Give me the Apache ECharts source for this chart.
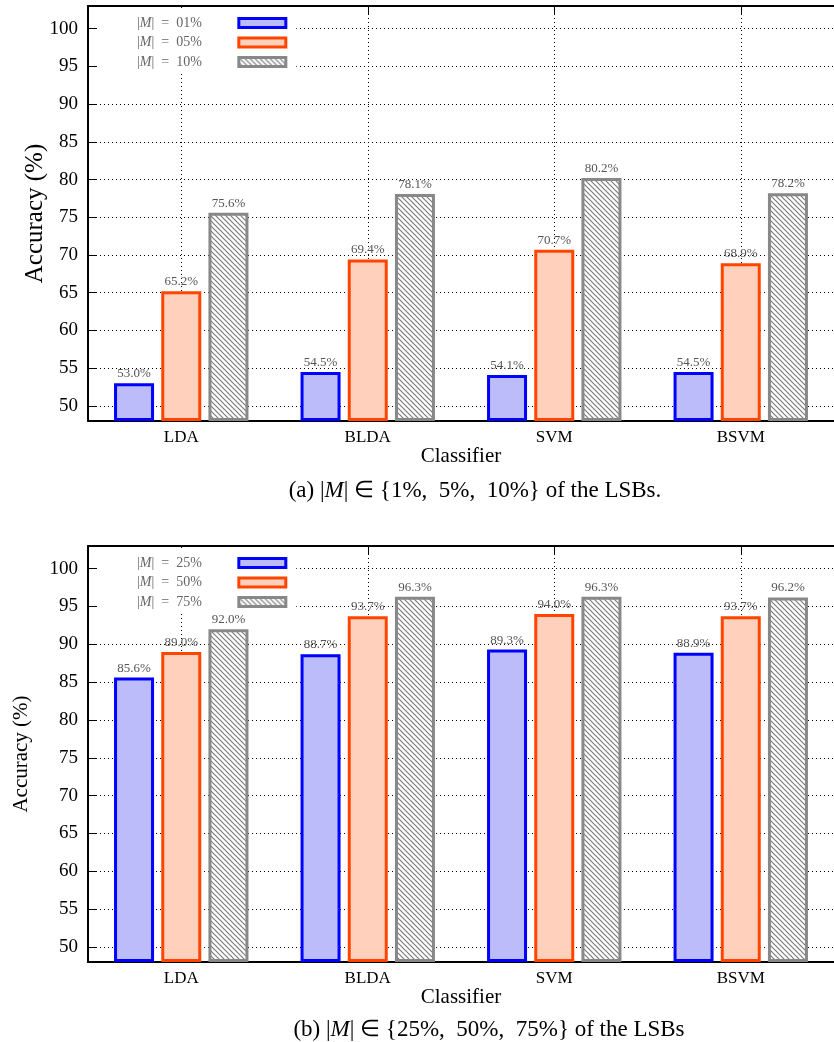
<!DOCTYPE html>
<html>
<head>
<meta charset="utf-8">
<script src="https://cdn.jsdelivr.net/npm/echarts@6/dist/echarts.min.js"></script>
<style>
  html, body { margin: 0; padding: 0; background: #fff; }
  #chart { width: 834px; height: 1042px; }
</style>
</head>
<body>
<div id="chart"></div>
<script>
// Classifiers along the x axis
const classifiers = ['LDA', 'BLDA', 'SVM', 'BSVM'];
// y-axis tick values (accuracy, %)
const yTicks = [50, 55, 60, 65, 70, 75, 80, 85, 90, 95, 100];

// Panel (a): share of LSBs 1%, 5%, 10%
const namesA = ['|M| = 01%', '|M| = 05%', '|M| = 10%'];
const accA01 = [53.0, 54.5, 54.1, 54.5];
const accA05 = [65.2, 69.4, 70.7, 68.9];
const accA10 = [75.6, 78.1, 80.2, 78.2];

// Panel (b): share of LSBs 25%, 50%, 75%
const namesB = ['|M| = 25%', '|M| = 50%', '|M| = 75%'];
const accB25 = [85.6, 88.7, 89.3, 88.9];
const accB50 = [89.0, 93.7, 94.0, 93.7];
const accB75 = [92.0, 96.3, 96.3, 96.2];

const FONT = 'Liberation Serif';

// diagonal hatch fill for the third bar of each group
function hatch() {
  const s = 5;
  const c = document.createElement('canvas');
  c.width = s; c.height = s;
  const g = c.getContext('2d');
  g.fillStyle = '#fff';
  g.fillRect(0, 0, s, s);
  g.strokeStyle = '#7c7c7c';
  g.lineWidth = 1.2;
  g.beginPath();
  g.moveTo(-1, -1); g.lineTo(s + 1, s + 1);
  g.moveTo(-1, s - 1); g.lineTo(1, s + 1);
  g.moveTo(s - 1, -1); g.lineTo(s + 1, 1);
  g.stroke();
  return { image: c, repeat: 'repeat' };
}
const hatchFill = hatch();

const styles = [
  { color: '#bcbcfb', borderColor: '#0000ff', borderWidth: 3 },
  { color: '#ffd0bb', borderColor: '#ff4500', borderWidth: 3 },
  { color: hatchFill, borderColor: '#888888', borderWidth: 3 }
];

function italicM(name) { return name.replace('M', '{i|M}').replace(' = ', '  =  '); }

function barSeries(name, data, idx, gridIdx) {
  return {
    type: 'bar',
    name: name,
    data: data,
    xAxisIndex: gridIdx * 2,
    yAxisIndex: gridIdx,
    barWidth: 40,
    barGap: '18%',
    itemStyle: styles[idx],
    label: {
      show: true,
      position: 'top',
      distance: 3,
      color: '#555',
      fontFamily: FONT,
      fontSize: 13,
      formatter: p => p.value.toFixed(1) + '%'
    }
  };
}

const dotted = { color: '#000', width: 1, type: [1, 3] };

function gridAxes(gridIdx, nameSize, nameGap) {
  const x = [
    {
      type: 'category', gridIndex: gridIdx, data: classifiers, position: 'bottom',
      axisLine: { onZero: false, lineStyle: { color: '#000', width: 2 } },
      axisTick: { show: false },
      axisLabel: { color: '#000', fontFamily: FONT, fontSize: 17, margin: 8 },
      name: 'Classifier', nameLocation: 'middle', nameGap: 25, nameMoveOverlap: false,
      nameTextStyle: { color: '#000', fontFamily: FONT, fontSize: 21 }
    },
    {
      // top frame with a tick and a dotted guide at each classifier
      type: 'value', gridIndex: gridIdx, position: 'top', min: -0.5, max: 3.5,
      axisLine: { show: true, onZero: false, lineStyle: { color: '#000', width: 2 } },
      axisTick: { show: true, inside: true, length: 9, customValues: [0, 1, 2, 3], lineStyle: { color: '#000' } },
      axisLabel: { show: false },
      splitLine: { show: true, lineStyle: dotted }
    }
  ];
  const y = {
    type: 'value', gridIndex: gridIdx, min: 48, max: 103, startValue: 48,
    axisLine: { show: true, onZero: false, lineStyle: { color: '#000', width: 2 } },
    axisTick: { show: true, inside: true, length: 9, customValues: yTicks, lineStyle: { color: '#000' } },
    axisLabel: { color: '#000', fontFamily: FONT, fontSize: 19, margin: 10, customValues: yTicks },
    splitLine: { show: true, lineStyle: dotted },
    name: 'Accuracy (%)', nameLocation: 'middle', nameGap: nameGap, nameMoveOverlap: false,
    nameTextStyle: { color: '#000', fontFamily: FONT, fontSize: nameSize }
  };
  return { x, y };
}

const axA = gridAxes(0, 25, 40);
const axB = gridAxes(1, 21, 56);

function legendFor(names, top) {
  return {
    data: names,
    orient: 'vertical',
    left: 99,
    top: top,
    align: 'right',
    icon: 'rect',
    itemWidth: 47,
    itemHeight: 9,
    itemGap: 5.5,
    itemStyle: { borderWidth: 3 },
    backgroundColor: '#fff',
    padding: [8, 9, 4, 38],
    formatter: italicM,
    textStyle: {
      color: '#666', fontFamily: FONT, fontSize: 14, lineHeight: 14,
      padding: [0, 32, 0, 0],
      rich: { i: { fontStyle: 'italic', color: '#666', fontFamily: FONT, fontSize: 14 } }
    }
  };
}

const option = {
  animation: false,
  backgroundColor: '#fff',
  grid: [
    { left: 88, top: 6, width: 753, height: 415, show: false },
    { left: 88, top: 546, width: 753, height: 416, show: false }
  ],
  xAxis: [...axA.x, ...axB.x],
  yAxis: [axA.y, axB.y],
  legend: [legendFor(namesA, 8), legendFor(namesB, 548)],
  title: [
    {
      text: '(a) |{i|M}| ∈ {1%,  5%,  10%} of the LSBs.',
      left: 470, top: 474, textAlign: 'center',
      textStyle: { color: '#000', fontFamily: FONT, fontSize: 23, fontWeight: 'normal',
        rich: { i: { fontStyle: 'italic', fontFamily: FONT, fontSize: 23 } } }
    },
    {
      text: '(b) |{i|M}| ∈ {25%,  50%,  75%} of the LSBs',
      left: 484, top: 1013, textAlign: 'center',
      textStyle: { color: '#000', fontFamily: FONT, fontSize: 23, fontWeight: 'normal',
        rich: { i: { fontStyle: 'italic', fontFamily: FONT, fontSize: 23 } } }
    }
  ],
  series: [
    barSeries(namesA[0], accA01, 0, 0),
    barSeries(namesA[1], accA05, 1, 0),
    barSeries(namesA[2], accA10, 2, 0),
    barSeries(namesB[0], accB25, 0, 1),
    barSeries(namesB[1], accB50, 1, 1),
    barSeries(namesB[2], accB75, 2, 1)
  ]
};

const chart = echarts.init(document.getElementById('chart'), null, { renderer: 'canvas' });
chart.setOption(option);
</script>
</body>
</html>
